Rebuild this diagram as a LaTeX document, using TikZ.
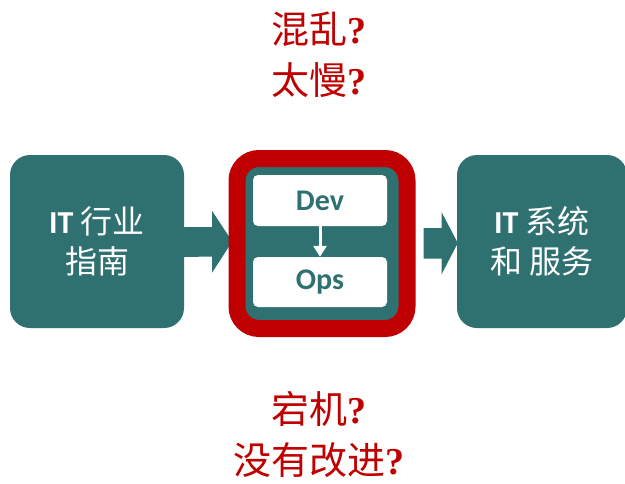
\documentclass[tikz,border=0pt]{standalone}
\usepackage{fontspec}
\setmainfont{Carlito}
\newfontfamily\cjk{Noto Sans CJK SC}
\newfontfamily\qfont{Liberation Serif}
\usetikzlibrary{calc,arrows.meta}
\definecolor{tealbox}{HTML}{2F7171}
\definecolor{redq}{HTML}{C00000}
\tikzset{
  bigbox/.style={fill=tealbox, rounded corners=20pt, minimum width=174pt, minimum height=173pt, inner sep=0pt, text=white, align=center, font=\fontsize{32}{40}\selectfont},
  inbox/.style={fill=white, rounded corners=5pt, minimum width=134pt, minimum height=50pt, inner sep=0pt, text=tealbox, font=\fontsize{30}{32}\selectfont\bfseries},
  question/.style={text=redq, align=center, font=\fontsize{38}{51}\selectfont},
  bigarrow/.style={fill=tealbox},
}
\begin{document}
\begin{tikzpicture}[x=1pt,y=-1pt]
\useasboundingbox (0,0) rectangle (625,483);
\fill[white] (0,0) rectangle (625,483);
% boxes
\node[bigbox] (L) at (97,241.5) {{\bfseries IT} {\cjk 行业}\\{\cjk 指南}};
\node[bigbox, minimum width=170pt] (Rt) at (542,241.5) {{\bfseries IT} {\cjk 系统}\\{\cjk 和 服务}};
% arrows
\fill[bigarrow] ($(L.east)+(0,-14.5)$) -- ++(28,0) -- ++(0,-16) -- ($(L.east)+(48,0)$) -- ($(L.east)+(28,31)$) -- ++(0,-16) -- ($(L.east)+(0,15.5)$) -- cycle;
\node[draw=redq, line width=17pt, fill=tealbox, rounded corners=22pt, minimum width=170pt, minimum height=170pt, inner sep=0pt] (C) at (322,243.5) {};
\fill[bigarrow] ($(C.east)+(8,-15.5)$) -- ++(18,0) -- ++(0,-16) -- ($(Rt.west)+(1,1.5)$) -- ($(C.east)+(26,31)$) -- ++(0,-16) -- ($(C.east)+(8,15)$) -- cycle;
% inner
\node[inbox, minimum height=51pt] (Dev) at (320,200.5) {Dev};
\node[inbox] (Ops) at (320,282) {Ops};
\draw[white, line width=3pt, -{Triangle[width=13pt,length=11pt]}] (Dev.south) -- (Ops.north);
% questions
\node[question] (Top) at (319,55) {{\cjk 混乱}{\qfont\bfseries ?}\\{\cjk 太慢}{\qfont\bfseries ?}};
\node[question] (Bot) at (319,435) {{\cjk 宕机}{\qfont\bfseries ?}\\{\cjk 没有改进}{\qfont\bfseries ?}};
\end{tikzpicture}
\end{document}
